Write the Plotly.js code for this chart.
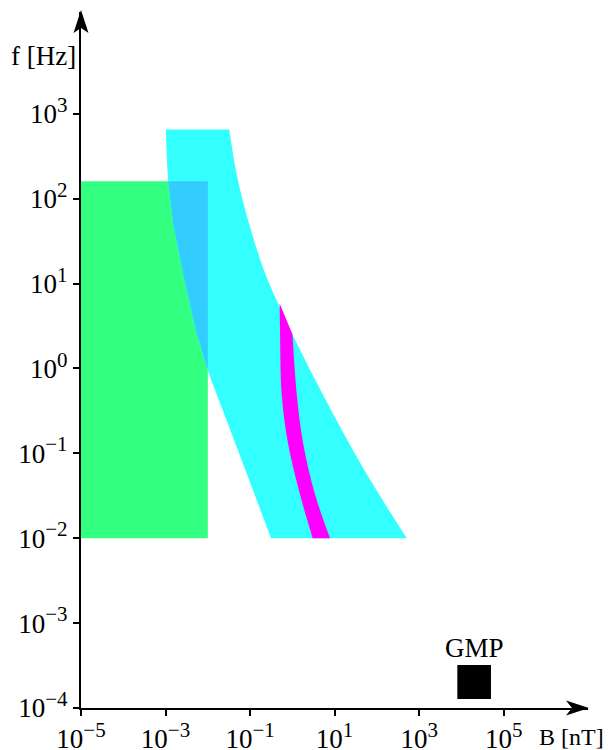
<!DOCTYPE html>
<html>
<head>
<meta charset="utf-8">
<script src="https://cdn.plot.ly/plotly-3.0.1.min.js"></script>
<style>html,body{margin:0;padding:0;background:#fff;}</style>
</head>
<body>
<div id="chart" style="width:608px;height:750px;"></div>
<script>
// ---- data (B in nT, f in Hz) ----
var greenB = [1e-5, 1e-2];
var greenF = [1e-2, 160];

// cyan band edges, top -> bottom
var cyanLeftB  = [0.00102, 0.00116, 0.00153, 0.00263, 0.0054, 0.0099, 0.0339, 0.0942, 0.313];
var cyanLeftF  = [650, 159, 49.5, 12.8, 2.65, 0.97, 0.19, 0.0491, 0.01];
var cyanRightB = [0.0322, 0.0482, 0.0959, 0.232, 0.47, 1.01, 3.44, 14.7, 68.7, 507];
var cyanRightF = [650, 192, 49.5, 12.8, 5.66, 2.51, 0.74, 0.19, 0.0491, 0.01];

// magenta band edges, top -> bottom
var magLeftB  = [0.50, 0.511, 0.56, 0.80, 1.52, 3.03];
var magLeftF  = [5.8, 3.0, 0.493, 0.127, 0.0327, 0.01];
var magRightB = [1.01, 1.27, 1.82, 3.44, 7.78];
var magRightF = [2.51, 0.493, 0.127, 0.0327, 0.01];

var gmpB = [8000, 50000];
var gmpF = [1.28e-4, 3.2e-4];

var xTicks = [1e-5, 1e-3, 1e-1, 1e1, 1e3, 1e5];
var xExp   = ['−5', '−3', '−1', '1', '3', '5'];
var yTicks = [1e-4, 1e-3, 1e-2, 1e-1, 1e0, 1e1, 1e2, 1e3];
var yExp   = ['−4', '−3', '−2', '−1', '0', '1', '2', '3'];

// ---- helpers ----
var L = Math.log10;
function pow10(e) { return '10<sup><span style="font-size:21px">' + e + '</span></sup>'; }
function rect(xs, ys) {
  return {x: [xs[0], xs[1], xs[1], xs[0], xs[0]], y: [ys[0], ys[0], ys[1], ys[1], ys[0]]};
}
function interpAtY(xs, ys, yv) {
  for (var i = 0; i < xs.length - 1; i++) {
    var a = L(ys[i]), b = L(ys[i + 1]), t = L(yv);
    if ((a - t) * (b - t) <= 0 && a !== b) {
      var f = (t - a) / (b - a);
      return {i: i, v: Math.pow(10, L(xs[i]) + f * (L(xs[i + 1]) - L(xs[i])))};
    }
  }
  return {i: 0, v: xs[0]};
}
function interpAtX(xs, ys, xv) {
  for (var i = 0; i < xs.length - 1; i++) {
    var a = L(xs[i]), b = L(xs[i + 1]), t = L(xv);
    if ((a - t) * (b - t) <= 0 && a !== b) {
      var f = (t - a) / (b - a);
      return {i: i, v: Math.pow(10, L(ys[i]) + f * (L(ys[i + 1]) - L(ys[i])))};
    }
  }
  return {i: 0, v: ys[0]};
}
function edge(x, y) {
  return {type: 'scatter', mode: 'lines', x: x, y: y, line: {width: 0, shape: 'spline', smoothing: 1},
          hoverinfo: 'skip', showlegend: false};
}
function edgeFill(x, y, color) {
  var t = edge(x, y);
  t.fill = 'tonextx'; t.fillcolor = color;
  return t;
}
function poly(x, y, color) {
  return {type: 'scatter', mode: 'lines', x: x, y: y, fill: 'toself', fillcolor: color,
          line: {width: 0, color: color}, hoverinfo: 'skip', showlegend: false};
}

// overlap of green box with the cyan band (part of cyan left edge inside green)
var gTop = greenF[1], gRight = greenB[1];
var ovTop = interpAtY(cyanLeftB, cyanLeftF, gTop);
var ovRgt = interpAtX(cyanLeftB, cyanLeftF, gRight);
var ovX = [ovTop.v, gRight, gRight], ovY = [gTop, gTop, ovRgt.v];
for (var i = ovRgt.i; i > ovTop.i; i--) { ovX.push(cyanLeftB[i]); ovY.push(cyanLeftF[i]); }
ovX.push(ovTop.v); ovY.push(gTop);

var gBox = rect(greenB, greenF), kBox = rect(gmpB, gmpF);
var traces = [
  poly(gBox.x, gBox.y, '#33FF80'),
  edge(cyanLeftB, cyanLeftF),
  edgeFill(cyanRightB, cyanRightF, '#33FFFF'),
  edge(magLeftB, magLeftF),
  edgeFill(magRightB, magRightF, '#FF00FF'),
  poly(ovX, ovY, '#33CCFF'),
  poly(kBox.x, kBox.y, '#000000')
];

// ---- layout ----
var ML = 81, MR = 20, MT = 12, MB = 42, W = 608, H = 750;
var PW = W - ML - MR, PH = H - MT - MB;
function P(px, py) { return ((px - ML) / PW).toFixed(5) + ',' + ((H - MB - py) / PH).toFixed(5); }
var FONT = 'Liberation Serif, Times New Roman, serif';

var layout = {
  width: W, height: H,
  margin: {l: ML, r: MR, t: MT, b: MB, pad: 0},
  paper_bgcolor: '#ffffff', plot_bgcolor: '#ffffff',
  showlegend: false,
  font: {family: FONT, size: 27, color: '#000'},
  xaxis: {
    type: 'log', range: [-5, -5 + PW / 42.27],
    showgrid: false, zeroline: false,
    showline: true, linecolor: '#000', linewidth: 2,
    ticks: 'outside', ticklen: 6, tickwidth: 2, tickcolor: '#000',
    tickmode: 'array', tickvals: xTicks, ticktext: xExp.map(pow10),
    tickfont: {family: FONT, size: 27, color: '#000'}
  },
  yaxis: {
    type: 'log', range: [-4, -4 + PH / 84.9],
    showgrid: false, zeroline: false,
    showline: true, linecolor: '#000', linewidth: 2,
    ticks: 'outside', ticklen: 6, tickwidth: 2, tickcolor: '#000',
    tickmode: 'array', tickvals: yTicks, ticktext: yExp.map(pow10),
    tickfont: {family: FONT, size: 27, color: '#000'}
  },
  shapes: [
    {type: 'path', xref: 'paper', yref: 'paper', layer: 'above',
     path: 'M' + P(81, 10) + ' L' + P(73.5, 33) + ' L' + P(81, 28) + ' L' + P(88.5, 33) + ' Z',
     fillcolor: '#000', line: {width: 0}},
    {type: 'path', xref: 'paper', yref: 'paper', layer: 'above',
     path: 'M' + P(589, 708) + ' L' + P(566, 700.5) + ' L' + P(572, 708) + ' L' + P(566, 715.5) + ' Z',
     fillcolor: '#000', line: {width: 0}}
  ],
  annotations: [
    {xref: 'paper', yref: 'paper', x: (43 - ML) / PW, y: (H - MB - 56) / PH,
     text: 'f [Hz]', showarrow: false, xanchor: 'center', yanchor: 'middle',
     font: {family: FONT, size: 27, color: '#000'}},
    {xref: 'paper', yref: 'paper', x: (606 - ML) / PW, y: (H - MB - 737) / PH,
     text: 'B [nT]', showarrow: false, xanchor: 'right', yanchor: 'middle',
     font: {family: FONT, size: 24, color: '#000'}},
    {xref: 'x', yref: 'y', x: (L(gmpB[0]) + L(gmpB[1])) / 2, y: L(gmpF[1]),
     text: 'GMP', showarrow: false, xanchor: 'center', yanchor: 'bottom', yshift: 0,
     font: {family: FONT, size: 27, color: '#000'}}
  ]
};

Plotly.newPlot('chart', traces, layout, {staticPlot: true, displayModeBar: false});
</script>
</body>
</html>
